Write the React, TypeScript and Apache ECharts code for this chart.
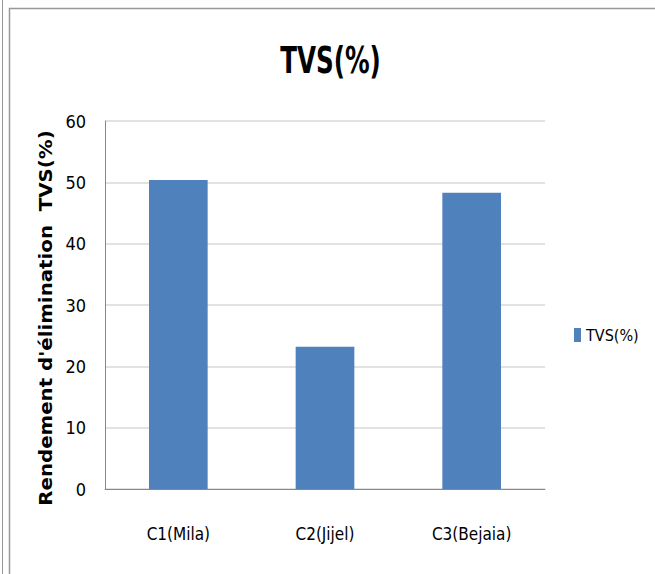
import React, { useEffect, useRef } from "react";
import * as echarts from "echarts";

const categories = ["C1(Mila)", "C2(Jijel)", "C3(Bejaia)"];
const tvsValues = [50.4, 23.2, 48.3];
const seriesName = "TVS(%)";
const chartTitle = "TVS(%)";
const yAxisTitle = "Rendement d'élimination  TVS(%)";

const FONT = "'DejaVu Sans Condensed', 'Liberation Sans Narrow', 'Open Sans', sans-serif";

export default function App() {
  const ref = useRef<HTMLDivElement>(null);

  useEffect(() => {
    if (!ref.current) return;
    const chart = echarts.init(ref.current, null, { renderer: "svg" });
    chart.setOption({
      animation: false,
      backgroundColor: "#ffffff",
      legend: {
        data: [seriesName],
        left: 574,
        top: 327,
        padding: 0,
        itemWidth: 7,
        itemHeight: 14,
        itemGap: 5,
        icon: "rect",
        textStyle: { fontFamily: FONT, fontSize: 16, color: "#000" },
      },
      grid: { left: 105, right: 110, top: 121, bottom: 85, containLabel: false },
      xAxis: {
        type: "category",
        data: categories,
        axisLine: { lineStyle: { color: "#888", width: 1 } },
        axisTick: { show: false },
        axisLabel: { fontFamily: FONT, fontSize: 17, color: "#000", margin: 36 },
      },
      yAxis: {
        type: "value",
        min: 0,
        max: 60,
        interval: 10,
        axisLine: { show: true, lineStyle: { color: "#888", width: 1 } },
        axisTick: { show: false },
        axisLabel: { fontFamily: FONT, fontSize: 18, color: "#000", margin: 19 },
        splitLine: { lineStyle: { color: "#d9d9d9", width: 1.5 } },
      },
      series: [
        {
          name: seriesName,
          type: "bar",
          data: tvsValues,
          barWidth: "40%",
          itemStyle: { color: "#4f81bd" },
        },
      ],
      graphic: [
        {
          type: "line",
          shape: { x1: 2.5, y1: 0, x2: 2.5, y2: 574 },
          style: { stroke: "#999", lineWidth: 1 },
        },
        {
          type: "rect",
          shape: { x: 9.5, y: 8.5, width: 700, height: 600 },
          style: { fill: "none", stroke: "#999", lineWidth: 1.5 },
        },
        {
          // condensed bold chart title
          type: "text",
          x: 330.5,
          y: 60,
          scaleX: 0.72,
          style: {
            text: chartTitle,
            fill: "#000",
            font: "bold 38px " + FONT,
            textAlign: "center",
            textVerticalAlign: "middle",
          },
        },
        {
          // vertical axis title, reading bottom to top
          type: "text",
          x: 45,
          y: 318,
          rotation: Math.PI / 2,
          scaleX: 1.1,
          style: {
            text: yAxisTitle,
            fill: "#000",
            font: "bold 18px 'DejaVu Sans', Verdana, sans-serif",
            textAlign: "center",
            textVerticalAlign: "middle",
          },
        },
      ],
    });
    return () => chart.dispose();
  }, []);

  return (
    <div
      ref={ref}
      style={{ position: "fixed", left: 0, top: 0, width: 655, height: 574 }}
    />
  );
}
